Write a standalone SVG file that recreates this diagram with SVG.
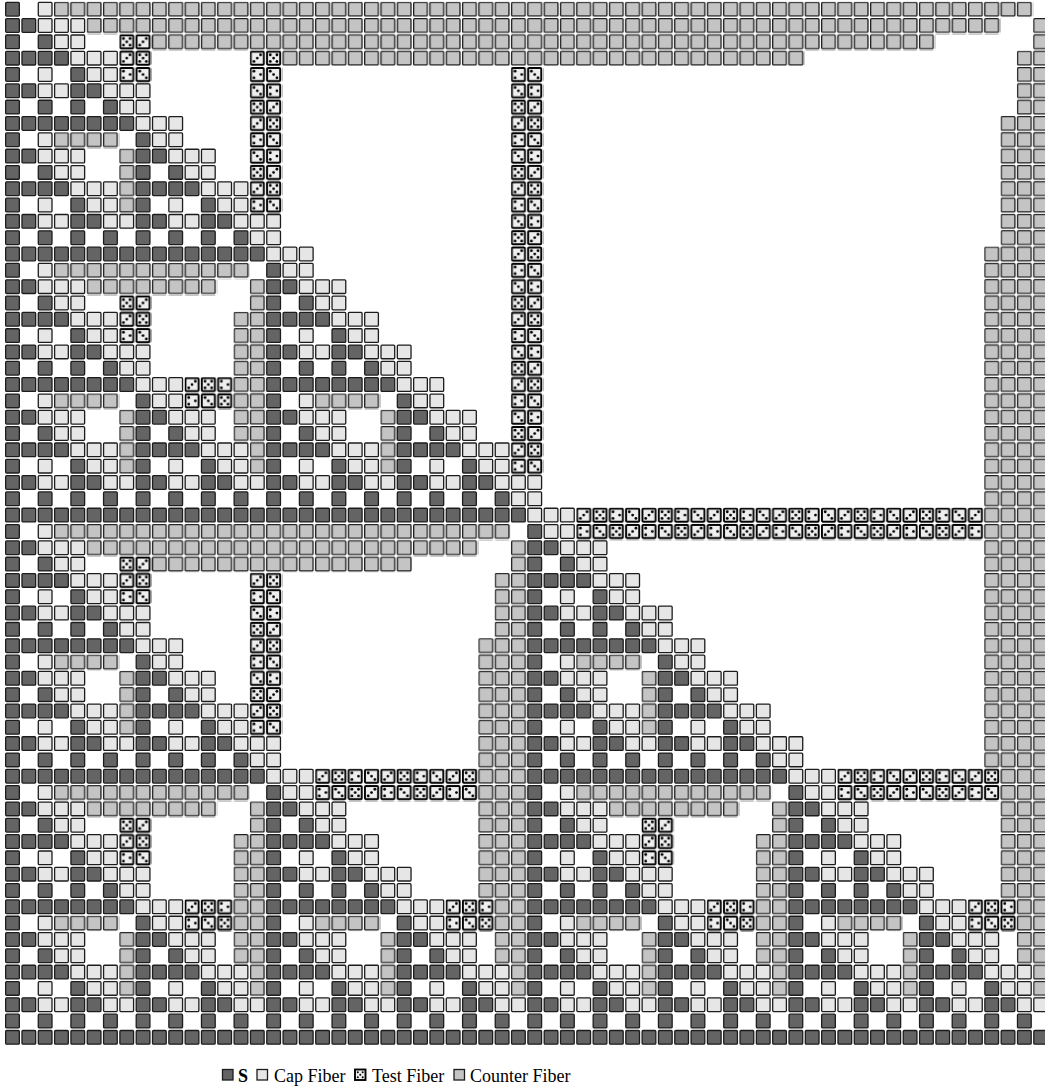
<svg xmlns="http://www.w3.org/2000/svg" width="1045" height="1088" viewBox="0 0 1045 1088">
<style>
.s{fill:#646464;stroke:#1c1c1c;stroke-width:1.3}
.c{fill:#e6e6e6;stroke:#1c1c1c;stroke-width:1.3}
.n{fill:#c4c4c4;stroke:#1c1c1c;stroke-width:1.3}
.t{fill:#eeeeee;stroke:#000;stroke-width:1.9}
.fn{fill:url(#pn)}
.ft{fill:url(#pt)}
.lg{font-family:"Liberation Serif","DejaVu Serif",serif;font-size:18px;fill:#000}
</style>
<defs>
<rect id="d" class="s" x=".65" y=".65" width="13.7" height="13.7" rx="1"/>
<rect id="c" class="c" x=".65" y=".65" width="13.7" height="13.7" rx="1"/>
<rect id="tr" class="t" x=".95" y=".95" width="13.1" height="13.1" rx="1"/>
<g id="t1"><use href="#tr"/><circle cx="4.2" cy="4.2" r="1.4"/><circle cx="7.5" cy="7.5" r="1.4"/><circle cx="10.8" cy="10.8" r="1.4"/></g>
<g id="t2"><use href="#tr"/><circle cx="10.8" cy="4.2" r="1.4"/><circle cx="4.2" cy="10.8" r="1.4"/><circle cx="7.5" cy="7.5" r="1.4"/></g>
<g id="t3"><use href="#tr"/><circle cx="4.2" cy="4.2" r="1.4"/><circle cx="10.8" cy="4.2" r="1.4"/><circle cx="4.2" cy="10.8" r="1.4"/><circle cx="10.8" cy="10.8" r="1.4"/><circle cx="7.5" cy="7.5" r="1.4"/></g>
<g id="t4"><use href="#tr"/><circle cx="4.2" cy="4.2" r="1.4"/><circle cx="10.8" cy="7.5" r="1.4"/><circle cx="4.2" cy="10.8" r="1.4"/></g>
<pattern id="pn" width="16.32" height="16.32" patternUnits="userSpaceOnUse"><rect class="n" x=".65" y=".65" width="13.7" height="13.7" rx="1"/></pattern>
<pattern id="pt" width="65.28" height="65.28" patternUnits="userSpaceOnUse">
<use href="#t1"/><use href="#t3" x="16.32"/><use href="#t2" x="32.64"/><use href="#t4" x="48.96"/>
<use href="#t4" y="16.32"/><use href="#t2" x="16.32" y="16.32"/><use href="#t3" x="32.64" y="16.32"/><use href="#t1" x="48.96" y="16.32"/>
<use href="#t2" y="32.64"/><use href="#t1" x="16.32" y="32.64"/><use href="#t4" x="32.64" y="32.64"/><use href="#t3" x="48.96" y="32.64"/>
<use href="#t3" y="48.96"/><use href="#t4" x="16.32" y="48.96"/><use href="#t1" x="32.64" y="48.96"/><use href="#t2" x="48.96" y="48.96"/>
</pattern>
<g id="K"><use href="#c" y="-48.96"/><use href="#c" x="-16.32" y="-32.64"/><use href="#c" y="-32.64"/><use href="#c" y="-16.32"/><use href="#c" x="16.32" y="-16.32"/><use href="#c" x="32.64" y="-16.32"/><use href="#c" x="16.32"/></g>
<g id="L1"><use href="#d"/><use href="#d" y="16.32"/><use href="#d" x="16.32" y="16.32"/></g>
<g id="L2"><use href="#L1"/><use href="#L1" y="32.64"/><use href="#L1" x="32.64" y="32.64"/><use href="#c" x="32.64"/><use href="#c" x="32.64" y="16.32"/><use href="#c" x="48.96" y="16.32"/></g>
<g id="L3"><use href="#L2"/><use href="#L2" y="65.28"/><use href="#L2" x="65.28" y="65.28"/><use href="#K" x="65.28" y="65.28"/></g>
<g id="L4"><use href="#L3"/><use href="#L3" y="130.56"/><use href="#L3" x="130.56" y="130.56"/><use href="#K" x="130.56" y="130.56"/></g>
<g id="L5"><use href="#L4"/><use href="#L4" y="261.12"/><use href="#L4" x="261.12" y="261.12"/><use href="#K" x="261.12" y="261.12"/></g>
<g id="L6"><use href="#L5"/><use href="#L5" y="522.24"/><use href="#L5" x="522.24" y="522.24"/><use href="#K" x="522.24" y="522.24"/></g>
</defs>
<rect width="1045" height="1088" fill="#fff"/>
<g transform="translate(5 1.7)">
<g id="sierpinski-and-caps"><use href="#L6"/></g>
<g id="counter-fibers" class="fn">
<rect x="48.96" y="0" width="979.2" height="16.32"/>
<rect x="81.6" y="16.32" width="913.92" height="16.32"/>
<rect x="146.88" y="32.64" width="783.36" height="16.32"/>
<rect x="277.44" y="48.96" width="522.24" height="16.32"/>
<rect x="1028.16" y="16.32" width="16.32" height="979.2"/>
<rect x="1011.84" y="48.96" width="16.32" height="913.92"/>
<rect x="995.52" y="114.24" width="16.32" height="783.36"/>
<rect x="979.2" y="244.8" width="16.32" height="522.24"/>
<rect x="48.96" y="130.56" width="65.28" height="16.32"/>
<rect x="114.24" y="146.88" width="16.32" height="65.28"/>
<rect x="48.96" y="261.12" width="195.84" height="16.32"/>
<rect x="81.6" y="277.44" width="130.56" height="16.32"/>
<rect x="244.8" y="277.44" width="16.32" height="195.84"/>
<rect x="228.48" y="310.08" width="16.32" height="130.56"/>
<rect x="48.96" y="391.68" width="65.28" height="16.32"/>
<rect x="114.24" y="408" width="16.32" height="65.28"/>
<rect x="310.08" y="391.68" width="65.28" height="16.32"/>
<rect x="375.36" y="408" width="16.32" height="65.28"/>
<rect x="48.96" y="522.24" width="456.96" height="16.32"/>
<rect x="81.6" y="538.56" width="391.68" height="16.32"/>
<rect x="146.88" y="554.88" width="261.12" height="16.32"/>
<rect x="505.92" y="538.56" width="16.32" height="456.96"/>
<rect x="489.6" y="571.2" width="16.32" height="391.68"/>
<rect x="473.28" y="636.48" width="16.32" height="261.12"/>
<rect x="48.96" y="652.8" width="65.28" height="16.32"/>
<rect x="114.24" y="669.12" width="16.32" height="65.28"/>
<rect x="48.96" y="783.36" width="195.84" height="16.32"/>
<rect x="81.6" y="799.68" width="130.56" height="16.32"/>
<rect x="244.8" y="799.68" width="16.32" height="195.84"/>
<rect x="228.48" y="832.32" width="16.32" height="130.56"/>
<rect x="48.96" y="913.92" width="65.28" height="16.32"/>
<rect x="114.24" y="930.24" width="16.32" height="65.28"/>
<rect x="310.08" y="913.92" width="65.28" height="16.32"/>
<rect x="375.36" y="930.24" width="16.32" height="65.28"/>
<rect x="571.2" y="652.8" width="65.28" height="16.32"/>
<rect x="636.48" y="669.12" width="16.32" height="65.28"/>
<rect x="571.2" y="783.36" width="195.84" height="16.32"/>
<rect x="603.84" y="799.68" width="130.56" height="16.32"/>
<rect x="767.04" y="799.68" width="16.32" height="195.84"/>
<rect x="750.72" y="832.32" width="16.32" height="130.56"/>
<rect x="571.2" y="913.92" width="65.28" height="16.32"/>
<rect x="636.48" y="930.24" width="16.32" height="65.28"/>
<rect x="832.32" y="913.92" width="65.28" height="16.32"/>
<rect x="897.6" y="930.24" width="16.32" height="65.28"/>
</g>
<g id="test-fibers" class="ft">
<rect x="114.24" y="32.64" width="32.64" height="48.96"/>
<rect x="244.8" y="48.96" width="32.64" height="163.2"/>
<rect x="505.92" y="65.28" width="32.64" height="408"/>
<rect x="114.24" y="293.76" width="32.64" height="48.96"/>
<rect x="179.52" y="375.36" width="48.96" height="32.64"/>
<rect x="571.2" y="505.92" width="408" height="32.64"/>
<rect x="114.24" y="554.88" width="32.64" height="48.96"/>
<rect x="244.8" y="571.2" width="32.64" height="163.2"/>
<rect x="310.08" y="767.04" width="163.2" height="32.64"/>
<rect x="832.32" y="767.04" width="163.2" height="32.64"/>
<rect x="114.24" y="816" width="32.64" height="48.96"/>
<rect x="636.48" y="816" width="32.64" height="48.96"/>
<rect x="179.52" y="897.6" width="48.96" height="32.64"/>
<rect x="440.64" y="897.6" width="48.96" height="32.64"/>
<rect x="701.76" y="897.6" width="48.96" height="32.64"/>
<rect x="962.88" y="897.6" width="48.96" height="32.64"/>
</g>
</g>
<g id="legend">
<rect class="s" x="222.5" y="1069.5" width="10.5" height="10.5"/>
<text class="lg" x="238" y="1081.5" font-weight="bold">S</text>
<rect class="c" x="257" y="1069.5" width="10.5" height="10.5"/>
<text class="lg" x="274" y="1081.5">Cap Fiber</text>
<rect class="t" x="355" y="1069.5" width="10.5" height="10.5"/>
<circle cx="357.8" cy="1072.3" r="1"/><circle cx="362.7" cy="1072.3" r="1"/><circle cx="360.25" cy="1074.75" r="1"/><circle cx="357.8" cy="1077.2" r="1"/><circle cx="362.7" cy="1077.2" r="1"/>
<text class="lg" x="372" y="1081.5">Test Fiber</text>
<rect class="n" x="454" y="1069.5" width="10.5" height="10.5"/>
<text class="lg" x="470" y="1081.5">Counter Fiber</text>
</g>
</svg>
